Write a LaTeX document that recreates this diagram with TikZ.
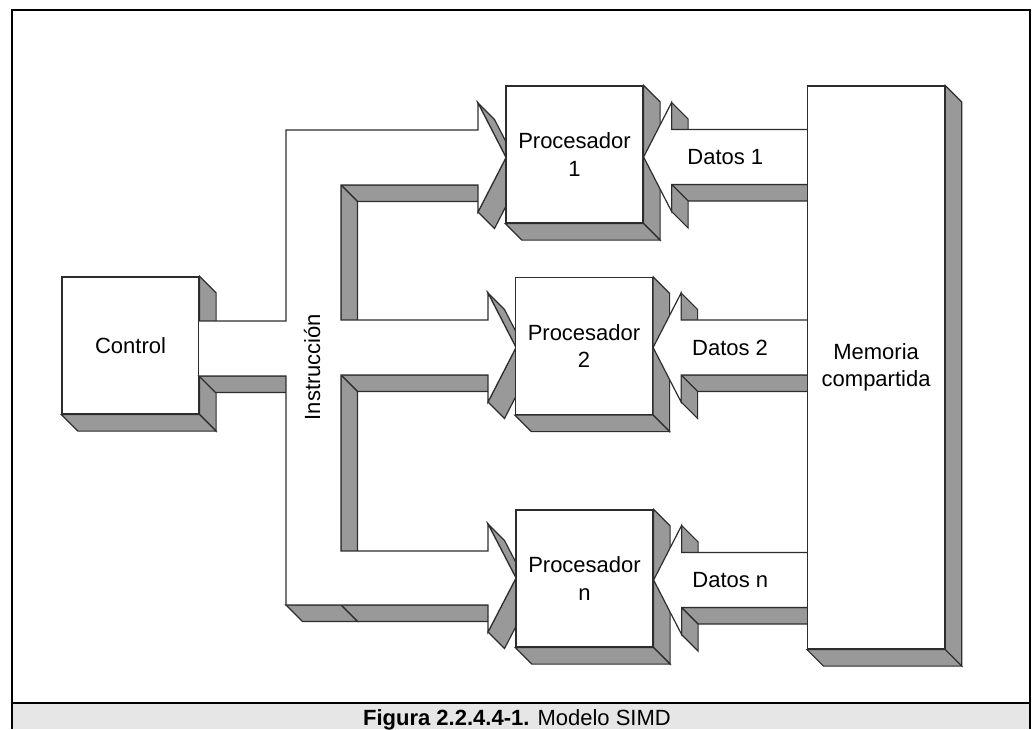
\documentclass[tikz,border=0pt]{standalone}
\usepackage{fontspec}
\setmainfont{Liberation Sans}
\usetikzlibrary{calc}

\definecolor{sidegray}{RGB}{153,153,153}
\definecolor{edgegray}{RGB}{45,45,45}
\definecolor{captiongray}{RGB}{230,230,230}

% depth of the 3d look
\newcommand{\shadedepth}{16.5}

% one grey side face behind the edge #1 -- #2
\newcommand{\sideface}[2]{%
  \filldraw[shadowside] (#1) -- (#2) -- ([shift={(\shadedepth,\shadedepth)}]#2)
    -- ([shift={(\shadedepth,\shadedepth)}]#1) -- cycle;}

% right and bottom faces of a block
\newcommand{\boxshade}[1]{%
  \sideface{#1.north east}{#1.south east}
  \sideface{#1.south east}{#1.south west}}

% data arrow from the memory to a processor
\newcommand{\datos}[4]{%
  \coordinate (#3tip) at (#1.east |- 0,#2);
  \path ([shift={(28,-54.5)}]#3tip) coordinate (#3ub)
        ([shift={(28,-27.5)}]#3tip) coordinate (#3ut)
        ([shift={(28,27.5)}]#3tip) coordinate (#3lt)
        ([shift={(28,54.5)}]#3tip) coordinate (#3lb);
  \path (#3ut -| memw) coordinate (#3mt)
        (#3lt -| memw) coordinate (#3mb)
        (#3tip -| memw) coordinate (#3m);
  \sideface{#3mb}{#3lt}
  \sideface{#3ub}{#3ut}
  \sideface{#3lt}{#3lb}
  \filldraw[front] (#3mt) -- (#3ut) -- (#3ub) -- (#3tip) -- (#3lb) -- (#3lt) -- (#3mb);
  \node (#3) at ($(#3tip)!0.5!(#3m)$) {#4};}

\begin{document}
\begin{tikzpicture}[x=1pt, y=-1pt, font=\fontsize{22}{27.5}\selectfont]

% block style
\tikzstyle{block} = [
    draw=edgegray,
    fill=white,
    line width=1.2pt,
    rectangle,
    inner sep=0pt,
    align=center,
    minimum width=137pt,
    minimum height=137pt
]

% side face style
\tikzstyle{shadowside} = [
    draw=edgegray,
    fill=sidegray,
    line width=1.2pt
]

% arrow face style
\tikzstyle{front} = [
    draw=edgegray,
    fill=white,
    line width=1.2pt
]

\useasboundingbox (0,0) rectangle (1032,729);

% Frame and caption.
\fill[captiongray] (12,703) rectangle (1030,729);
\draw[line width=2.5pt] (12,729) -- (12,10) -- (1030,10) -- (1030,729);
\draw[line width=2.5pt] (12,703) -- (1030,703);
\node[anchor=base] (caption) at (517,725) {\textbf{Figura 2.2.4.4-1.} Modelo SIMD};

% Control unit.
\node[block] (control) at (130.5,345.5) {Control};
\boxshade{control}

% Instruction bus: side faces first.
\sideface{478,185}{341,185}
\sideface{341,185}{341,320}
\sideface{488,375}{341,375}
\sideface{341,375}{341,551}
\sideface{488,605}{341,605}
\sideface{341,605}{286,605}
\sideface{286,376}{199,376}
\sideface{478,103}{506,157.5}
\sideface{506,157.5}{478,212}
\sideface{488,293}{516,347.5}
\sideface{516,347.5}{488,402}
\sideface{488,524}{516,578}
\sideface{516,578}{488,632}

% Instruction bus: front face.
\filldraw[front] (199,321) -- (286,321) -- (286,130) -- (478,130) -- (478,103)
    -- (506,157.5) -- (478,212) -- (478,185) -- (341,185) -- (341,320)
    -- (488,320) -- (488,293) -- (516,347.5) -- (488,402) -- (488,375)
    -- (341,375) -- (341,551) -- (488,551) -- (488,524) -- (516,578)
    -- (488,632) -- (488,605) -- (286,605) -- (286,376) -- (199,376);
\node[rotate=90, anchor=base] (instr) at (320,367) {Instrucción};

% Processors.
\node[block] (p1) at (574.5,154.5) {Procesador\\1};
\boxshade{p1}
\node[block] (p2) at (584,346) {Procesador\\2};
\boxshade{p2}
\node[block] (pn) at (584.5,578.5) {Procesador\\n};
\boxshade{pn}

% Data arrows.
\coordinate (memw) at (807,367.5);
\datos{p1}{157}{d1}{Datos 1}
\datos{p2}{347.5}{d2}{Datos 2}
\datos{pn}{580}{dn}{Datos n}

% Shared memory.
\node[block, anchor=west, minimum height=563pt] (mem) at (memw) {Memoria\\compartida};
\boxshade{mem}

\end{tikzpicture}
\end{document}
